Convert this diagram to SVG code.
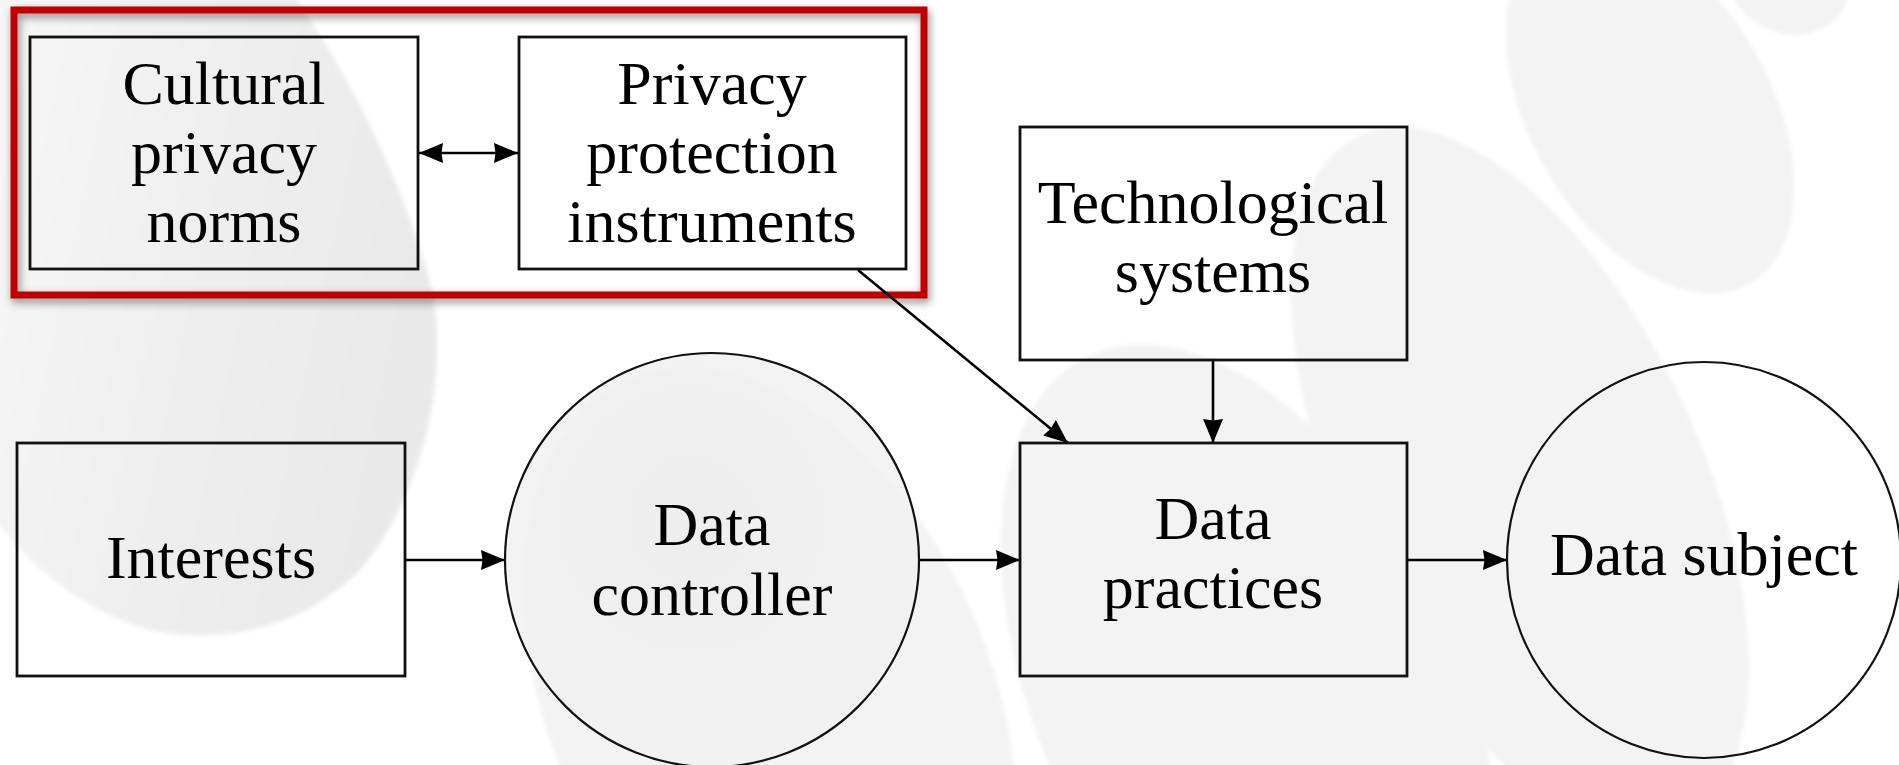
<svg xmlns="http://www.w3.org/2000/svg" width="1899" height="765" viewBox="0 0 1899 765">
<defs>
<style>
.box{fill:none;stroke:#111;stroke-width:2.8}
.circ{stroke:#111;stroke-width:2.2}
.lbl{font-family:"Liberation Serif","Times New Roman",serif;font-size:62px;fill:#000;text-anchor:middle}
.conn{stroke:#000;stroke-width:2.6;fill:none}
.wm{fill:#f3f3f3}
</style>
<marker id="ah" markerUnits="userSpaceOnUse" markerWidth="26" markerHeight="22" refX="24" refY="10" orient="auto">
<path d="M0,0 L24,10 L0,20 L1.5,10 z" fill="#000"/>
</marker>
<marker id="ahs" markerUnits="userSpaceOnUse" markerWidth="26" markerHeight="22" refX="1" refY="10" orient="auto">
<path d="M25,0 L1,10 L25,20 L23.5,10 z" fill="#000"/>
</marker>
<linearGradient id="gD" x1="0" y1="0" x2="1" y2="0.3">
<stop offset="0" stop-color="#f7f7f7"/>
<stop offset="0.6" stop-color="#eeeeee"/>
<stop offset="1" stop-color="#e9e9e9"/>
</linearGradient>
<radialGradient id="gC" cx="0.45" cy="0.4" r="0.6">
<stop offset="0" stop-color="#ececec"/>
<stop offset="1" stop-color="#f1f1f1"/>
</radialGradient>
<filter id="soft" x="-10%" y="-10%" width="120%" height="120%"><feGaussianBlur stdDeviation="2"/></filter>
<filter id="shadow" x="-5%" y="-5%" width="112%" height="115%"><feDropShadow dx="2" dy="4" stdDeviation="4" flood-color="#000" flood-opacity="0.45"/></filter>
</defs>
<rect x="0" y="0" width="1899" height="765" fill="#fff"/>
<g id="watermark" filter="url(#soft)">
<path d="M-10,-10 L290,-10 C340,60 400,170 432,290 C450,380 420,500 360,570 C300,630 220,645 150,630 C80,610 20,560 -10,510 Z" fill="url(#gD)"/>
<ellipse class="wm" cx="770" cy="700" rx="220" ry="350" transform="rotate(-24 770 700)"/>
<ellipse class="wm" cx="1250" cy="700" rx="210" ry="380" transform="rotate(-25 1250 700)"/>
<ellipse class="wm" cx="1520" cy="480" rx="180" ry="380" transform="rotate(-25 1520 480)"/>
<ellipse class="wm" cx="1650" cy="110" rx="120" ry="200" transform="rotate(-30 1650 110)"/>
<ellipse class="wm" cx="1785" cy="-40" rx="65" ry="78" transform="rotate(-30 1785 -40)"/>
</g>
<g id="group-frame">
<rect x="14" y="10" width="910" height="285" fill="none" stroke="#c00000" stroke-width="7" filter="url(#shadow)"/>
</g>
<g id="connectors">
<line class="conn" x1="419" y1="153" x2="518" y2="153" marker-start="url(#ahs)" marker-end="url(#ah)"/>
<line class="conn" x1="858" y1="270" x2="1068" y2="443" marker-end="url(#ah)"/>
<line class="conn" x1="1213" y1="360" x2="1213" y2="443" marker-end="url(#ah)"/>
<line class="conn" x1="405" y1="560" x2="505" y2="560" marker-end="url(#ah)"/>
<line class="conn" x1="919" y1="560" x2="1020" y2="560" marker-end="url(#ah)"/>
<line class="conn" x1="1407" y1="560" x2="1507" y2="560" marker-end="url(#ah)"/>
</g>
<g id="node-cultural">
<rect class="box" x="30" y="37" width="388" height="232"/>
<text class="lbl" x="224" y="104">Cultural</text>
<text class="lbl" x="224" y="173">privacy</text>
<text class="lbl" x="224" y="242">norms</text>
</g>
<g id="node-instruments">
<rect class="box" x="519" y="37" width="387" height="232"/>
<text class="lbl" x="712" y="104">Privacy</text>
<text class="lbl" x="712" y="173">protection</text>
<text class="lbl" x="712" y="242">instruments</text>
</g>
<g id="node-technological">
<rect class="box" x="1020" y="127" width="387" height="233"/>
<text class="lbl" x="1213" y="223">Technological</text>
<text class="lbl" x="1213" y="292">systems</text>
</g>
<g id="node-interests">
<rect class="box" x="17" y="443" width="388" height="233"/>
<text class="lbl" x="211" y="578">Interests</text>
</g>
<g id="node-controller">
<ellipse class="circ" cx="712" cy="560" rx="207" ry="207" fill="url(#gC)" fill-opacity="0.8"/>
<text class="lbl" x="712" y="545">Data</text>
<text class="lbl" x="712" y="615">controller</text>
</g>
<g id="node-practices">
<rect class="box" x="1020" y="443" width="387" height="233"/>
<text class="lbl" x="1213" y="539">Data</text>
<text class="lbl" x="1213" y="608">practices</text>
</g>
<g id="node-subject">
<ellipse class="circ" cx="1704" cy="560" rx="197" ry="198" fill="none"/>
<text class="lbl" x="1704" y="575">Data subject</text>
</g>
</svg>
